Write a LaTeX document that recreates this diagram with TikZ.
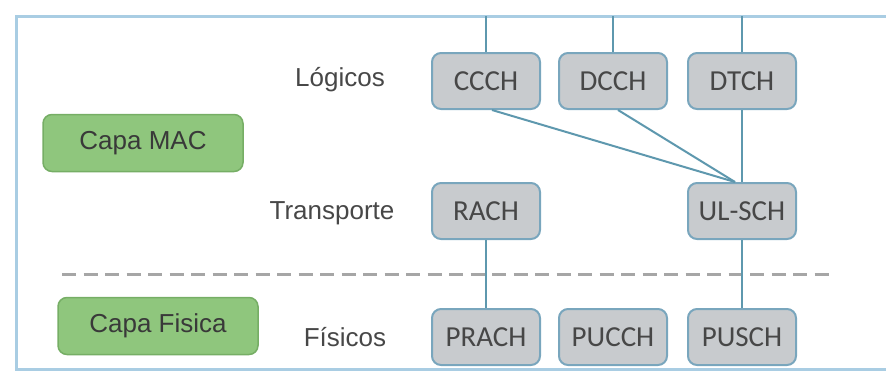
\documentclass[tikz,border=0pt]{standalone}
\usepackage{fontspec}
\setmainfont{Liberation Sans}
\newfontfamily\boxfont{Carlito}
\definecolor{framecol}{HTML}{A9CDE3}
\definecolor{linkcol}{HTML}{5E98AE}
\definecolor{chanfill}{HTML}{C8CBCE}
\definecolor{chanedge}{HTML}{79A6BD}
\definecolor{capafill}{HTML}{8FC67D}
\definecolor{capaedge}{HTML}{76AE65}
\definecolor{textcol}{HTML}{474747}
\tikzset{
  chanbox/.style={draw=chanedge, fill=chanfill, line width=2pt, rounded corners=9pt,
    minimum width=108pt, minimum height=56pt, inner sep=0pt, text=textcol,
    font=\boxfont\fontsize{29}{32}\selectfont},
  capabox/.style={draw=capaedge, fill=capafill, line width=1.5pt, rounded corners=9pt,
    minimum width=200pt, minimum height=57pt, inner sep=0pt, text=textcol!80!black,
    font=\fontsize{26}{30}\selectfont},
  rowlabel/.style={text=textcol, font=\fontsize{26}{30}\selectfont},
  link/.style={draw=linkcol, line width=2pt}
}
\begin{document}
\begin{tikzpicture}[x=1pt,y=-1pt]
    \useasboundingbox (0,0) rectangle (886,373);
    % Define columns and rows
    \def\colA{486}
    \def\colB{613}
    \def\colC{742}
    \def\rowL{81}
    \def\rowT{211}
    \def\rowF{337}

    % Draw frame
    \draw[framecol, line width=3pt] (886,16) -- (16,16) -- (16,369) -- (886,369);

    % Layer boxes and row labels
    \node[capabox] (mac) at (143,143) {Capa MAC};
    \node[capabox] (fisica) at (158,326) {Capa Fisica};
    \node[rowlabel] (logicos) at (340,80) {Lógicos};
    \node[rowlabel] (transporte) at (332,213) {Transporte};
    \node[rowlabel] (fisicos) at (345,337) {Físicos};

    % Channels
    \node[chanbox] (ccch) at (\colA,\rowL) {CCCH};
    \node[chanbox] (dcch) at (\colB,\rowL) {DCCH};
    \node[chanbox] (dtch) at (\colC,\rowL) {DTCH};
    \node[chanbox] (rach) at (\colA,\rowT) {RACH};
    \node[chanbox] (ulsch) at (\colC,\rowT) {UL-SCH};
    \node[chanbox] (prach) at (\colA,\rowF) {PRACH};
    \node[chanbox] (pucch) at (\colB,\rowF) {PUCCH};
    \node[chanbox] (pusch) at (\colC,\rowF) {PUSCH};

    % Dashed separator
    \coordinate (sepL) at (62,274);
    \coordinate (sepR) at (831,274);
    \draw[gray!70, line width=3pt, dash pattern=on 14pt off 7.5pt] (sepL) -- (sepR);

    % Links from above
    \foreach \n/\x in {ccch/\colA, dcch/\colB, dtch/\colC} {
        \coordinate (top-\n) at (\x,16);
        \draw[link] (top-\n) -- (\n);
    }

    % Mapping links
    \draw[link] ([xshift=6pt]ccch.south) -- ([xshift=-7pt]ulsch.north);
    \draw[link] ([xshift=5pt]dcch.south) -- ([xshift=-7pt]ulsch.north);
    \draw[link] (dtch) -- (ulsch);
    \draw[link] (rach) -- (prach);
    \draw[link] (ulsch) -- (pusch);
\end{tikzpicture}
\end{document}
